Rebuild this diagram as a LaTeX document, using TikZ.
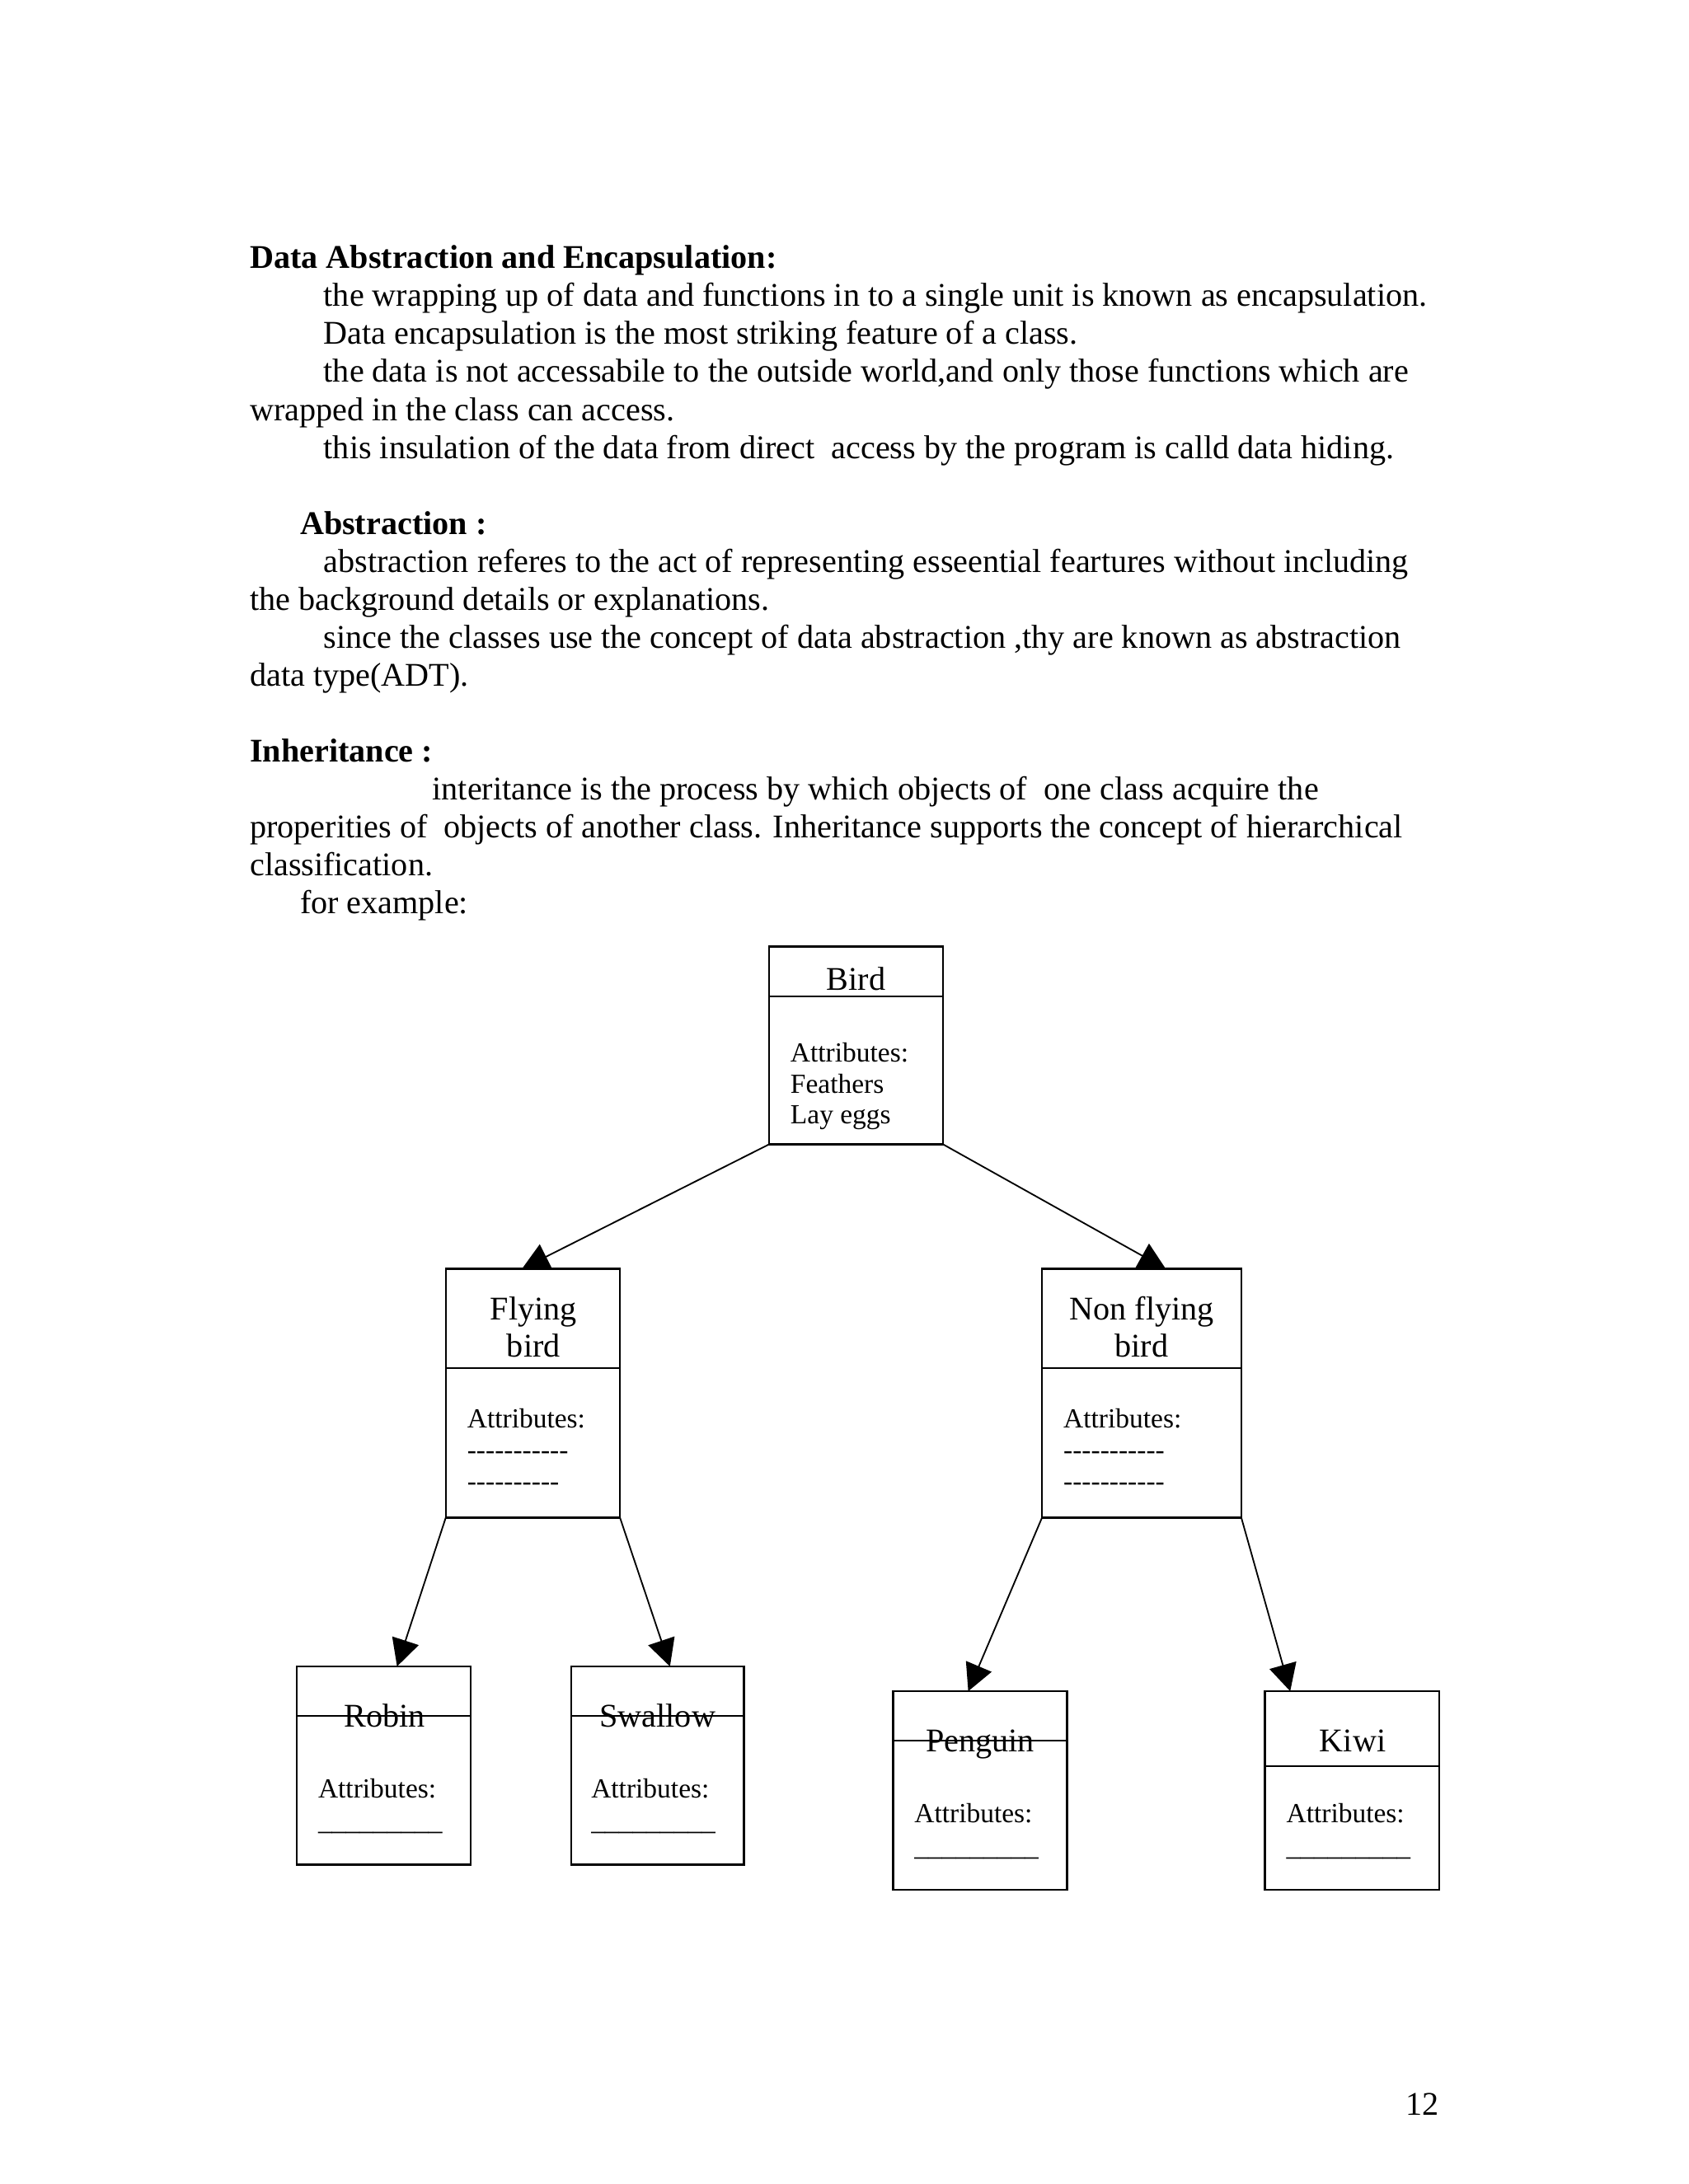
\documentclass[tikz,border=0pt]{standalone}
\usepackage{fontspec}
\setmainfont{Liberation Serif}
\usetikzlibrary{arrows.meta,calc,fit}
\begin{document}
\begin{tikzpicture}[x=0.50495pt,y=-0.50495pt,
 body/.style={anchor=base west,inner sep=0pt,font=\fontsize{12}{14}\selectfont},
 head/.style={anchor=base west,inner sep=0pt,font=\fontsize{12}{14}\selectfont\bfseries},
 ttl/.style={anchor=base,inner sep=0pt,font=\fontsize{12}{14}\selectfont},
 attr/.style={anchor=base west,inner sep=0pt,font=\fontsize{10}{12}\selectfont},
 cls/.style={draw,line width=0.7pt,inner sep=0pt,outer sep=0pt},
 arr/.style={line width=0.55pt,-{Triangle[width=10pt,length=9.8pt]}},
 divl/.style={line width=0.7pt}]
\useasboundingbox[fill=white] (0,0) rectangle (1212,1568);

% ---- text ----
\node[head] (h1) at (179,192.8) {Data Abstraction and Encapsulation:};
\node[body] (l1) at (232,220.05) {the wrapping up of data and functions in to a single unit is known as encapsulation.};
\node[body] (l2) at (232,247.3) {Data encapsulation is the most striking feature of a class.};
\node[body] (l3) at (232,274.55) {the data is not accessabile to the outside world,and only those functions which are};
\node[body] (l4) at (179,301.8) {wrapped in the class can access.};
\node[body] (l5) at (232,329.05) {this insulation of the data from direct\ \ access by the program is calld data hiding.};
\node[head] (h2) at (215,383.55) {Abstraction :};
\node[body] (l6) at (232,410.8) {abstraction referes to the act of representing esseential feartures without including};
\node[body] (l7) at (179,438.05) {the background details or explanations.};
\node[body] (l8) at (232,465.3) {since the classes use the concept of data abstraction ,thy are known as abstraction};
\node[body] (l9) at (179,492.55) {data type(ADT).};
\node[head] (h3) at (179,547.05) {Inheritance :};
\node[body] (l10) at (310,574.3) {interitance is the process by which objects of\ \ one class acquire the};
\node[body] (l11) at (179,601.55) {properities of\ \ objects of another class. Inheritance supports the concept of hierarchical};
\node[body] (l12) at (179,628.8) {classification.};
\node[body] (l13) at (215,656.05) {for example:};

% ---- boxes ----
\node[cls,fit={(552,679.5) (677,821.6)}] (bird) {};
\draw[divl] (552,715.3) -- (677,715.3);
\node[ttl] (birdT) at (614.5,711.1) {Bird};
\node[attr] (birdA1) at (567,762.4) {Attributes:};
\node[attr] (birdA2) at (567,784.7) {Feathers};
\node[attr] (birdA3) at (567,806.8) {Lay eggs};

\node[cls,fit={(320,911) (445,1089.5)}] (fly) {};
\draw[divl] (320,982.4) -- (445,982.4);
\node[ttl] (flyT1) at (383,947.5) {Flying};
\node[ttl] (flyT2) at (383,974.1) {bird};
\node[attr] (flyA1) at (335,1025.4) {Attributes:};
\node[attr] (flyA2) at (335,1047.8) {-{}-{}-{}-{}-{}-{}-{}-{}-{}-{}-};
\node[attr] (flyA3) at (335,1070.2) {-{}-{}-{}-{}-{}-{}-{}-{}-{}-};

\node[cls,fit={(748,911) (891,1089.5)}] (non) {};
\draw[divl] (748,982.4) -- (891,982.4);
\node[ttl] (nonT1) at (819.5,947.5) {Non flying};
\node[ttl] (nonT2) at (819.5,974.1) {bird};
\node[attr] (nonA1) at (763,1025.4) {Attributes:};
\node[attr] (nonA2) at (763,1047.8) {-{}-{}-{}-{}-{}-{}-{}-{}-{}-{}-};
\node[attr] (nonA3) at (763,1070.2) {-{}-{}-{}-{}-{}-{}-{}-{}-{}-{}-};

\node[cls,fit={(213,1196.4) (338,1338.8)}] (robin) {};
\draw[divl] (213,1231.9) -- (338,1231.9);
\node[ttl] (robinT) at (276,1239.8) {Robin};
\node[attr] (robinA) at (228,1290.5) {Attributes:};
\node[attr] (robinU) at (228,1314) {\_\_\_\_\_\_\_\_\_};

\node[cls,fit={(410,1196.4) (534,1338.8)}] (swal) {};
\draw[divl] (410,1231.9) -- (534,1231.9);
\node[ttl] (swalT) at (472,1239.8) {Swallow};
\node[attr] (swalA) at (424,1290.5) {Attributes:};
\node[attr] (swalU) at (424,1314) {\_\_\_\_\_\_\_\_\_};

\node[cls,fit={(641,1214.2) (766,1356.6)}] (peng) {};
\draw[divl] (641,1249.7) -- (766,1249.7);
\node[ttl] (pengT) at (703.5,1257.6) {Penguin};
\node[attr] (pengA) at (656,1308.3) {Attributes:};
\node[attr] (pengU) at (656,1332) {\_\_\_\_\_\_\_\_\_};

\node[cls,fit={(908,1214.2) (1033,1356.6)}] (kiwi) {};
\draw[divl] (908,1268) -- (1033,1268);
\node[ttl] (kiwiT) at (971,1257.6) {Kiwi};
\node[attr] (kiwiA) at (923,1308.3) {Attributes:};
\node[attr] (kiwiU) at (923,1332) {\_\_\_\_\_\_\_\_\_};

% ---- connectors ----
\draw[arr] (bird.south west) -- ($(fly.north west)!0.437!(fly.north east)$);
\draw[arr] (bird.south east) -- ($(non.north west)!0.621!(non.north east)$);
\draw[arr] (fly.south west) -- ($(robin.north west)!0.576!(robin.north east)$);
\draw[arr] (fly.south east) -- ($(swal.north west)!0.572!(swal.north east)$);
\draw[arr] (non.south west) -- ($(peng.north west)!0.432!(peng.north east)$);
\draw[arr] (non.south east) -- ($(kiwi.north west)!0.145!(kiwi.north east)$);

\node[anchor=base east,inner sep=0pt,font=\fontsize{12}{14}\selectfont] (pg) at (1033,1518.6) {12};
\end{tikzpicture}
\end{document}
